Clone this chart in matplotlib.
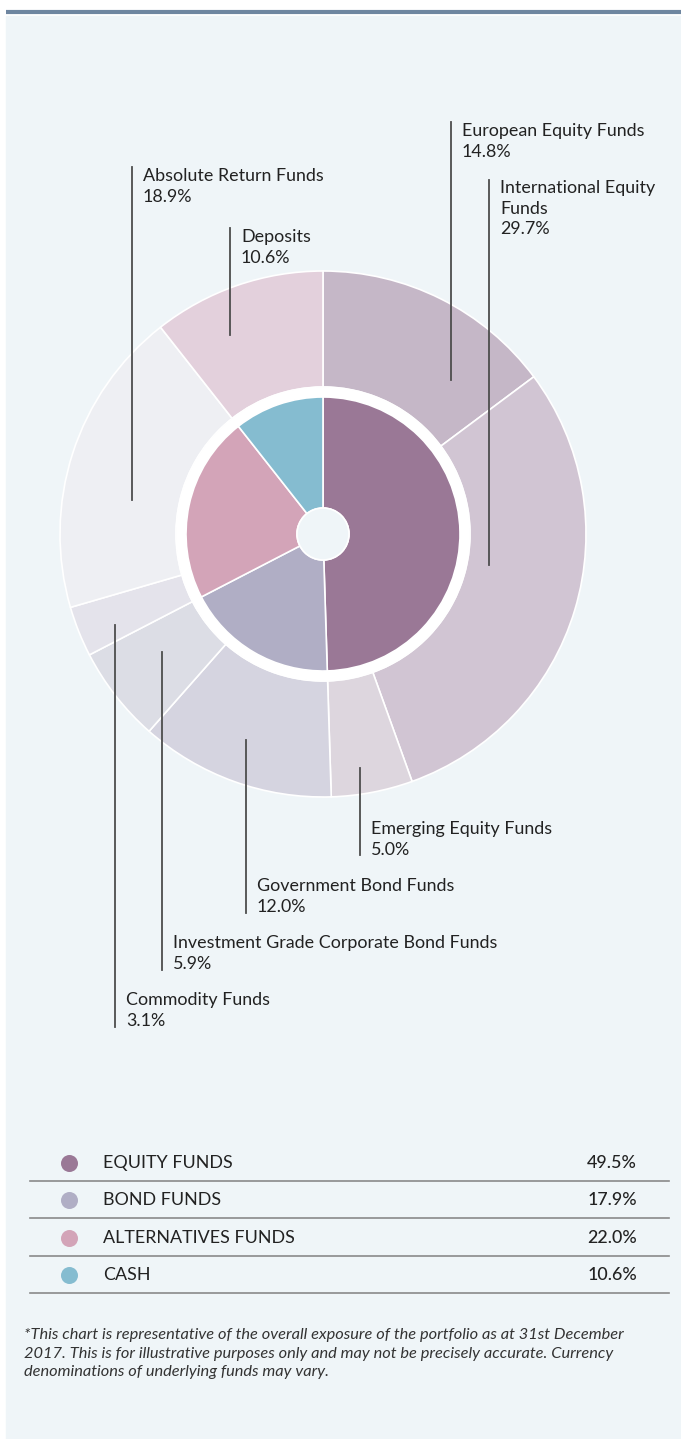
import matplotlib.pyplot as plt
from matplotlib.patches import Circle, Rectangle

# Data
outer_labels = ["European Equity Funds", "International Equity\nFunds", "Emerging Equity Funds",
                "Government Bond Funds", "Investment Grade Corporate Bond Funds",
                "Commodity Funds", "Absolute Return Funds", "Deposits"]
outer_values = [14.8, 29.7, 5.0, 12.0, 5.9, 3.1, 18.9, 10.6]
outer_colors = ["#c5b7c7", "#d1c5d3", "#ddd6de", "#d5d4e0", "#dcdde5", "#e4e3eb", "#eeeff3", "#e3d0dc"]

inner_labels = ["EQUITY FUNDS", "BOND FUNDS", "ALTERNATIVES FUNDS", "CASH"]
inner_values = [49.5, 17.9, 22.0, 10.6]
inner_colors = ["#9a7896", "#b0aec5", "#d3a4b8", "#85bcd0"]

W, H = 681, 1439
BG = "#eff5f8"
TXT = "#222222"
plt.rcParams['font.family'] = ['Lato', 'DejaVu Sans']


def Y(py):
    # pixel row -> data y
    return H - py


fig = plt.figure(figsize=(W / 100, H / 100), dpi=100)
ax = fig.add_axes([0, 0, 1, 1])
ax.set_xlim(0, W)
ax.set_ylim(0, H)
ax.axis('off')

# panel + top rule
ax.add_patch(Rectangle((6, 0), W - 6, Y(16), color=BG, zorder=0))
ax.plot([6, W], [Y(11.5), Y(11.5)], color="#6e86a0", lw=3, solid_capstyle='butt')

cx, cy = 323, Y(534)
ax.pie(outer_values, colors=outer_colors, center=(cx, cy), radius=263, startangle=90,
       counterclock=False, wedgeprops=dict(width=116, edgecolor='white', linewidth=1.2))
ax.add_patch(Circle((cx, cy), 147, color='white', zorder=2))
wedges, _ = ax.pie(inner_values, colors=inner_colors, center=(cx, cy), radius=137, startangle=90,
                   counterclock=False, wedgeprops=dict(width=111, edgecolor='white', linewidth=1.2))
for w in wedges:
    w.set_zorder(3)
ax.add_patch(Circle((cx, cy), 26, facecolor=BG, edgecolor='white', lw=1.2, zorder=4))
ax.set_xlim(0, W)
ax.set_ylim(0, H)

# labels with vertical leader lines: (line x, line top, line bottom, text y top)
label_pos = [
    (451, 122, 380, 123),
    (489, 180, 565, 180),
    (360, 768, 855, 821),
    (246, 740, 913, 878),
    (162, 652, 970, 935),
    (115, 625, 1027, 992),
    (132, 167, 500, 168),
    (230, 228, 335, 229),
]
for lab, val, (lx, lt, lb, ty) in zip(outer_labels, outer_values, label_pos):
    ax.plot([lx, lx], [Y(lt), Y(lb)], color="#4d4d4d", lw=1.3, zorder=5)
    ax.text(lx + 11, Y(ty), f"{lab}\n{val:.1f}%", ha='left', va='top', fontsize=12.9,
            color=TXT, linespacing=1.36, zorder=5)

# legend table
row_y = [1163, 1200, 1238, 1275]
for lab, val, col, ry in zip(inner_labels, inner_values, inner_colors, row_y):
    ax.scatter([69], [Y(ry)], s=150, color=col, zorder=5, linewidths=0)
    ax.text(103, Y(ry), lab, ha='left', va='center', fontsize=12.9, color=TXT)
    ax.text(637, Y(ry), f"{val:.1f}%", ha='right', va='center', fontsize=12.9, color=TXT,
            fontweight='medium')
    ax.plot([30, 669], [Y(ry + 18), Y(ry + 18)], color="#8a8a8a", lw=1.2)

note = ("*This chart is representative of the overall exposure of the portfolio as at 31st December\n"
        "2017. This is for illustrative purposes only and may not be precisely accurate. Currency\n"
        "denominations of underlying funds may vary.")
ax.text(24, Y(1328), note, ha='left', va='top', fontsize=11.8, style='italic', color="#333333",
        linespacing=1.42)

fig.savefig("out.png", dpi=100, facecolor='white')
